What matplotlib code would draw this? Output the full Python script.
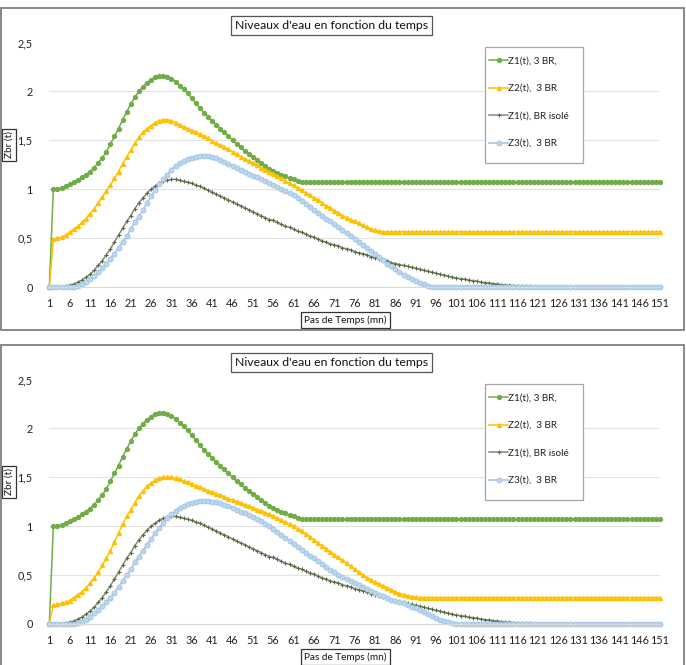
import matplotlib
matplotlib.use("Agg")
import matplotlib.pyplot as plt
from matplotlib.patches import Rectangle

plt.rcParams['font.family'] = ['Lato', 'DejaVu Sans']

# ---- data ----
steps = list(range(1, 152))
x_ticks = list(range(1, 152, 5))
y_ticks = [0, 0.5, 1, 1.5, 2, 2.5]
y_tick_labels = ["0", "0,5", "1", "1,5", "2", "2,5"]

title = "Niveaux d'eau en fonction du temps"
x_title = "Pas de Temps (mn)"
y_title = "Zbr (t)"
labels = ["Z1(t), 3 BR,", "Z2(t),  3 BR", "Z1(t), BR isolé", "Z3(t),  3 BR"]

# same in both charts
z1_3br = [0, 1.00, 1.005, 1.015, 1.03, 1.05, 1.07, 1.09, 1.12, 1.15,
          1.18, 1.22, 1.27, 1.32, 1.38, 1.46, 1.54, 1.62, 1.71, 1.79,
          1.87, 1.94, 2.00, 2.05, 2.09, 2.12, 2.15, 2.16, 2.16, 2.15,
          2.13, 2.10, 2.06, 2.02, 1.98, 1.93, 1.88, 1.83, 1.78, 1.74,
          1.70, 1.66, 1.62, 1.58, 1.54, 1.50, 1.46, 1.43, 1.39, 1.36,
          1.33, 1.30, 1.27, 1.24, 1.21, 1.19, 1.17, 1.15, 1.13, 1.11,
          1.10, 1.085, 1.075] + [1.07] * 88

z1_isole = [0, 0.0, 0.002, 0.005, 0.01, 0.02, 0.03, 0.05, 0.07, 0.10,
            0.13, 0.17, 0.22, 0.27, 0.33, 0.39, 0.46, 0.53, 0.60, 0.67,
            0.73, 0.80, 0.86, 0.91, 0.96, 1.00, 1.03, 1.06, 1.08, 1.09,
            1.10, 1.10, 1.09, 1.08, 1.07, 1.06, 1.04, 1.03, 1.01, 0.99,
            0.97, 0.95, 0.93, 0.91, 0.89, 0.87, 0.85, 0.83, 0.81, 0.79,
            0.77, 0.75, 0.73, 0.71, 0.69, 0.68, 0.66, 0.64, 0.62, 0.61,
            0.59, 0.57, 0.56, 0.54, 0.52, 0.51, 0.49, 0.47, 0.46, 0.44,
            0.43, 0.42, 0.40, 0.39, 0.38, 0.36, 0.35, 0.34, 0.33, 0.31,
            0.30, 0.29, 0.28, 0.27, 0.25, 0.24, 0.23, 0.22, 0.21, 0.20,
            0.19, 0.18, 0.17, 0.16, 0.15, 0.14, 0.13, 0.12, 0.11, 0.10,
            0.09, 0.085, 0.08, 0.07, 0.065, 0.06, 0.05, 0.045, 0.04, 0.035,
            0.03, 0.025, 0.02, 0.018, 0.015, 0.012, 0.01, 0.008, 0.006, 0.004,
            0.002] + [0] * 30

# top chart
z2_top = [0, 0.49, 0.50, 0.51, 0.53, 0.56, 0.59, 0.62, 0.66, 0.70,
          0.75, 0.80, 0.86, 0.92, 0.98, 1.04, 1.11, 1.18, 1.26, 1.33,
          1.40, 1.47, 1.53, 1.58, 1.62, 1.65, 1.68, 1.70, 1.71, 1.71,
          1.70, 1.68, 1.66, 1.64, 1.62, 1.60, 1.58, 1.56, 1.54, 1.52,
          1.49, 1.47, 1.45, 1.43, 1.41, 1.38, 1.36, 1.33, 1.31, 1.29,
          1.27, 1.25, 1.22, 1.20, 1.18, 1.16, 1.13, 1.11, 1.08, 1.06,
          1.04, 1.01, 0.99, 0.96, 0.94, 0.91, 0.89, 0.86, 0.83, 0.81,
          0.78, 0.76, 0.73, 0.71, 0.69, 0.67, 0.65, 0.63, 0.61, 0.59,
          0.58, 0.57] + [0.565] * 69

z3_top = [0, 0, 0, 0, 0, 0.002, 0.005, 0.01, 0.03, 0.05,
          0.08, 0.11, 0.15, 0.19, 0.24, 0.29, 0.34, 0.40, 0.46, 0.52,
          0.59, 0.66, 0.72, 0.79, 0.86, 0.93, 0.99, 1.05, 1.10, 1.15,
          1.20, 1.24, 1.27, 1.29, 1.31, 1.32, 1.33, 1.34, 1.34, 1.34,
          1.33, 1.32, 1.30, 1.28, 1.26, 1.24, 1.22, 1.20, 1.18, 1.16,
          1.14, 1.12, 1.10, 1.08, 1.06, 1.04, 1.02, 1.00, 0.98, 0.96,
          0.94, 0.91, 0.88, 0.85, 0.82, 0.79, 0.76, 0.73, 0.70, 0.67,
          0.64, 0.61, 0.58, 0.55, 0.52, 0.49, 0.46, 0.43, 0.40, 0.37,
          0.34, 0.31, 0.28, 0.24, 0.21, 0.18, 0.15, 0.12, 0.10, 0.08,
          0.06, 0.04, 0.03, 0.015, 0.005] + [0] * 56

# bottom chart
z2_bot = [0, 0.195, 0.20, 0.21, 0.22, 0.24, 0.27, 0.30, 0.33, 0.37,
          0.42, 0.47, 0.53, 0.60, 0.67, 0.75, 0.84, 0.93, 1.02, 1.10,
          1.17, 1.24, 1.31, 1.36, 1.41, 1.44, 1.47, 1.49, 1.50, 1.50,
          1.50, 1.49, 1.48, 1.46, 1.45, 1.43, 1.41, 1.40, 1.38, 1.36,
          1.35, 1.33, 1.32, 1.30, 1.28, 1.27, 1.25, 1.24, 1.22, 1.21,
          1.19, 1.17, 1.16, 1.14, 1.12, 1.10, 1.08, 1.06, 1.04, 1.02,
          1.00, 0.97, 0.95, 0.92, 0.89, 0.86, 0.83, 0.80, 0.77, 0.74,
          0.71, 0.68, 0.65, 0.62, 0.59, 0.56, 0.53, 0.50, 0.47, 0.45,
          0.43, 0.41, 0.39, 0.37, 0.35, 0.33, 0.31, 0.30, 0.29, 0.28,
          0.275, 0.27] + [0.27] * 59

z3_bot = [0, 0, 0, 0, 0, 0.002, 0.005, 0.01, 0.025, 0.045,
          0.075, 0.11, 0.14, 0.18, 0.22, 0.27, 0.32, 0.38, 0.44, 0.50,
          0.56, 0.63, 0.69, 0.75, 0.81, 0.87, 0.93, 0.98, 1.03, 1.08,
          1.12, 1.16, 1.19, 1.21, 1.23, 1.24, 1.25, 1.26, 1.26, 1.26,
          1.25, 1.25, 1.24, 1.22, 1.21, 1.19, 1.17, 1.15, 1.13, 1.11,
          1.09, 1.07, 1.05, 1.02, 1.00, 0.97, 0.94, 0.91, 0.88, 0.85,
          0.82, 0.79, 0.76, 0.73, 0.70, 0.67, 0.64, 0.61, 0.58, 0.55,
          0.53, 0.50, 0.48, 0.46, 0.44, 0.42, 0.40, 0.38, 0.36, 0.34,
          0.32, 0.30, 0.29, 0.27, 0.25, 0.24, 0.225, 0.21, 0.19, 0.175,
          0.16, 0.14, 0.12, 0.10, 0.08, 0.06, 0.045, 0.03, 0.02, 0.01,
          0.005] + [0] * 50

W, H = 686, 665
fig = plt.figure(figsize=(W / 100, H / 100), dpi=100)


def fx(px):
    return px / W


def fy(py):
    return 1 - py / H


def panel(off, z2, z3):
    # outer frame of the excel chart
    fig.patches.append(Rectangle((fx(1), fy(off + 322)), fx(683), 322 / H,
                                 transform=fig.transFigure, fill=False,
                                 edgecolor='#7f7f7f', lw=1.3))
    ax = fig.add_axes([fx(49.3), fy(off + 279), fx(660 - 49.3), 244.5 / H])
    ax.set_xlim(1, 151)
    ax.set_ylim(0, 2.5)
    for y in y_ticks[1:-1]:
        ax.axhline(y, color='#e3e3e3', lw=0.8, zorder=0)
    for s in ['top', 'right', 'left']:
        ax.spines[s].set_visible(False)
    ax.spines['bottom'].set_color('#d9d9d9')
    ax.set_xticks(x_ticks)
    ax.set_xticklabels([str(t) for t in x_ticks], fontsize=7.8)
    ax.set_yticks(y_ticks)
    ax.set_yticklabels(y_tick_labels, fontsize=7.8)
    ax.tick_params(length=0, pad=8, colors='#222222')
    ax.tick_params(axis='y', pad=12)

    ax.plot(steps, z1_3br, color='#70ad47', lw=1.1, marker='o', ms=2.8,
            label=labels[0], clip_on=False)
    ax.plot(steps, z2, color='#ffc000', lw=1.1, marker='^', ms=2.8,
            label=labels[1], clip_on=False)
    ax.plot(steps, z1_isole, color='#828f76', lw=1.1, marker='+', ms=2.6,
            mec='#56693f', mew=0.8, label=labels[2], clip_on=False)
    ax.plot(steps, z3, color='#9dc3e6', lw=1.1, marker='o', ms=3.6,
            mfc='#bdd7ee', mec='#9dc3e6', mew=0.6, label=labels[3], clip_on=False)

    fig.text(fx(331.5), fy(off + 17.5), title, fontsize=8.8, ha='center',
             va='center', color='#111111',
             bbox=dict(boxstyle='square,pad=0.3', fc='white', ec='#555555', lw=0.9))
    fig.text(fx(9), fy(off + 136.5), y_title, fontsize=7.2, rotation=90,
             ha='center', va='center', color='#111111',
             bbox=dict(boxstyle='square,pad=0.25', fc='white', ec='#333333', lw=0.9))
    fig.text(fx(345.5), fy(off + 312), x_title, fontsize=7.2, ha='center',
             va='center', color='#111111',
             bbox=dict(boxstyle='square,pad=0.3', fc='white', ec='#333333', lw=0.9))

    # legend box drawn in the axes so that the legend sits on top of it
    ax.add_patch(Rectangle((fx(485), fy(off + 155)), fx(98), 116 / H,
                           transform=fig.transFigure, fc='white',
                           ec='#a6a6a6', lw=0.9, zorder=3, clip_on=False))
    leg = ax.legend(loc='upper left', bbox_to_anchor=(fx(489), fy(off + 48.5)),
                    bbox_transform=fig.transFigure, frameon=False, fontsize=7.2,
                    borderpad=0, borderaxespad=0, handlelength=1.9,
                    handletextpad=0.05, labelspacing=1.85)
    leg.set_zorder(5)
    for tx in leg.get_texts():
        tx.set_color('#222222')


panel(8, z2_top, z3_top)
panel(345, z2_bot, z3_bot)

fig.savefig("out.png", dpi=100)
